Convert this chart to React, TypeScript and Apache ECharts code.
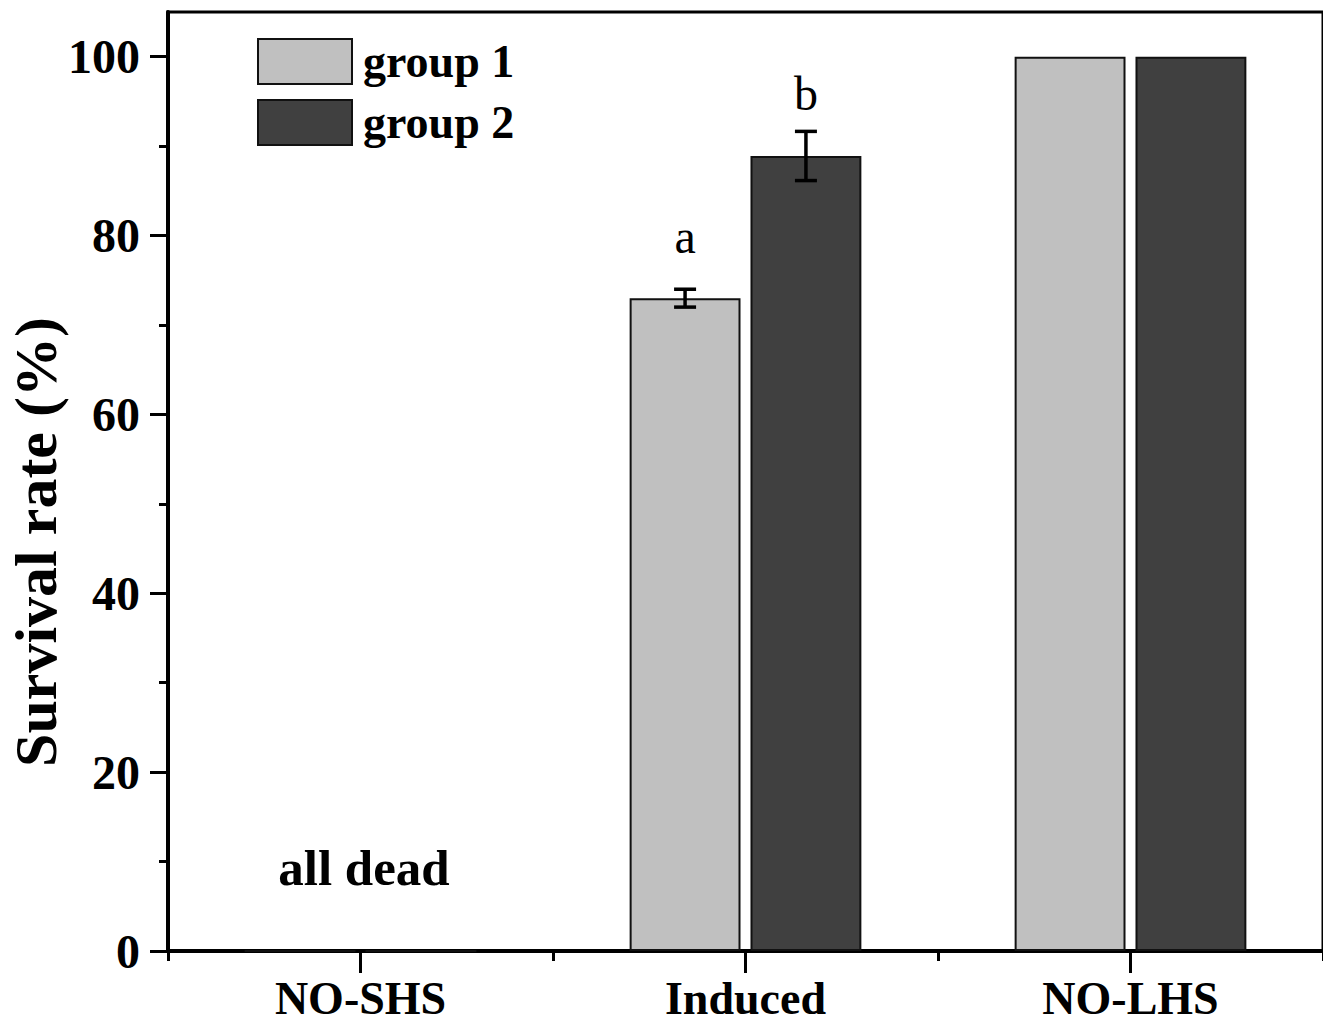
import React, { useEffect, useRef } from "react";
import * as echarts from "echarts";

const categories = ["NO-SHS", "Induced", "NO-LHS"];
const seriesNames = ["group 1", "group 2"];
const group1 = [0, 73.0, 100];
const group2 = [0, 88.9, 100];
const err1 = [0, 1.0, 0];
const err2 = [0, 2.75, 0];
const letters1 = ["", "a", ""];
const letters2 = ["", "b", ""];
const yTicks = [0, 20, 40, 60, 80, 100];
const yMinorTicks = [10, 30, 50, 70, 90];
const annotationText = "all dead";
const yTitle = "Survival rate (%)";

const FONT = "'Times New Roman', 'Liberation Serif', serif";
const BAR_W = 0.288;
const BAR_GAP = 0.09;

export default function App() {
  const ref = useRef<HTMLDivElement>(null);
  useEffect(() => {
    document.body.style.margin = "0";
    const chart = echarts.init(ref.current!, null, { renderer: "svg" });

    const mkData = (vals: number[], letters: string[]) =>
      vals.map((v, i) =>
        letters[i]
          ? {
              value: v,
              label: {
                show: true,
                formatter: letters[i],
                position: "top",
                distance: 38,
                fontSize: 48,
                fontFamily: FONT,
                fontWeight: "normal",
                color: "#000",
              },
            }
          : v
      );

    const errData: number[][] = [];
    categories.forEach((_, i) => {
      if (err1[i] > 0) errData.push([i, group1[i], err1[i], 0]);
      if (err2[i] > 0) errData.push([i, group2[i], err2[i], 1]);
    });

    chart.setOption({
      animation: false,
      grid: {
        left: 168,
        top: 12,
        right: -3,
        bottom: 74,
        show: true,
        borderColor: "#000",
        borderWidth: 3,
        containLabel: false,
      },
      legend: {
        data: seriesNames,
        orient: "vertical",
        left: 257,
        top: 38,
        padding: 0,
        itemWidth: 94,
        itemHeight: 45,
        itemGap: 14,
        icon: "rect",
        textStyle: { fontSize: 46, fontWeight: "bold", fontFamily: FONT, color: "#000", padding: [0, 0, 0, 6] },
      },
      xAxis: [
        {
          type: "category",
          data: categories,
          position: "bottom",
          axisLine: { lineStyle: { color: "#000", width: 4 } },
          axisTick: { show: true, length: 10, lineStyle: { color: "#000", width: 3 } },
          axisLabel: { fontSize: 46, fontWeight: "bold", fontFamily: FONT, color: "#000", margin: 24 },
          splitLine: { show: false },
        },
        {
          type: "category",
          data: categories,
          position: "bottom",
          offset: 0,
          axisLine: { show: false },
          axisTick: { show: true, alignWithLabel: true, length: 22, lineStyle: { color: "#000", width: 3 } },
          axisLabel: { show: false },
          splitLine: { show: false },
        },
      ],
      yAxis: [
        {
          type: "value",
          min: 0,
          max: 105,
          interval: 20,
          position: "left",
          axisLine: { show: true, lineStyle: { color: "#000", width: 4 } },
          axisTick: { show: true, length: 18, customValues: yTicks, lineStyle: { color: "#000", width: 3 } },
          axisLabel: { customValues: yTicks, fontSize: 48, fontWeight: "bold", fontFamily: FONT, color: "#000", margin: 28 },
          splitLine: { show: false },
        },
        {
          type: "value",
          min: 0,
          max: 105,
          interval: 10,
          position: "left",
          offset: 0,
          axisLine: { show: false },
          axisTick: { show: true, length: 9, customValues: yMinorTicks, lineStyle: { color: "#000", width: 3 } },
          axisLabel: { show: false },
          splitLine: { show: false },
        },
      ],
      series: [
        {
          name: seriesNames[0],
          type: "bar",
          xAxisIndex: 0,
          yAxisIndex: 0,
          data: mkData(group1, letters1),
          barWidth: BAR_W * 100 + "%",
          barGap: BAR_GAP * 100 + "%",
          itemStyle: { color: "#c0c0c0", borderColor: "#111", borderWidth: 2 },
        },
        {
          name: seriesNames[1],
          type: "bar",
          xAxisIndex: 0,
          yAxisIndex: 0,
          data: mkData(group2, letters2),
          barWidth: BAR_W * 100 + "%",
          barGap: BAR_GAP * 100 + "%",
          itemStyle: { color: "#404040", borderColor: "#111", borderWidth: 2 },
        },
        {
          name: "error",
          type: "custom",
          xAxisIndex: 0,
          yAxisIndex: 0,
          z: 10,
          data: errData,
          encode: { x: 0, y: 1 },
          renderItem: (params: any, api: any) => {
            const cat = api.value(0);
            const mean = api.value(1);
            const e = api.value(2);
            const g = api.value(3);
            const band = api.size([1, 0])[0];
            const off = (g === 0 ? -1 : 1) * (band * BAR_W * (1 + BAR_GAP)) / 2;
            const c = api.coord([cat, mean]);
            const x = c[0] + off;
            const yt = api.coord([cat, mean + e])[1];
            const yb = api.coord([cat, mean - e])[1];
            const cap = 11;
            const st = { stroke: "#000", lineWidth: 3.5 };
            return {
              type: "group",
              children: [
                { type: "line", shape: { x1: x, y1: yt, x2: x, y2: yb }, style: st },
                { type: "line", shape: { x1: x - cap, y1: yt, x2: x + cap, y2: yt }, style: st },
                { type: "line", shape: { x1: x - cap, y1: yb, x2: x + cap, y2: yb }, style: st },
              ],
            };
          },
        },
      ],
      graphic: [
        {
          type: "text",
          x: 364,
          y: 868,
          style: {
            text: annotationText,
            fontSize: 51,
            fontWeight: "bold",
            fontFamily: FONT,
            fill: "#000",
            align: "center",
            verticalAlign: "middle",
          },
        },
        {
          type: "text",
          x: 36,
          y: 542,
          rotation: Math.PI / 2,
          style: {
            text: yTitle,
            fontSize: 60,
            fontWeight: "bold",
            fontFamily: FONT,
            fill: "#000",
            align: "center",
            verticalAlign: "middle",
          },
        },
      ],
    });
    return () => chart.dispose();
  }, []);
  return <div ref={ref} style={{ width: 1323, height: 1025 }} />;
}
